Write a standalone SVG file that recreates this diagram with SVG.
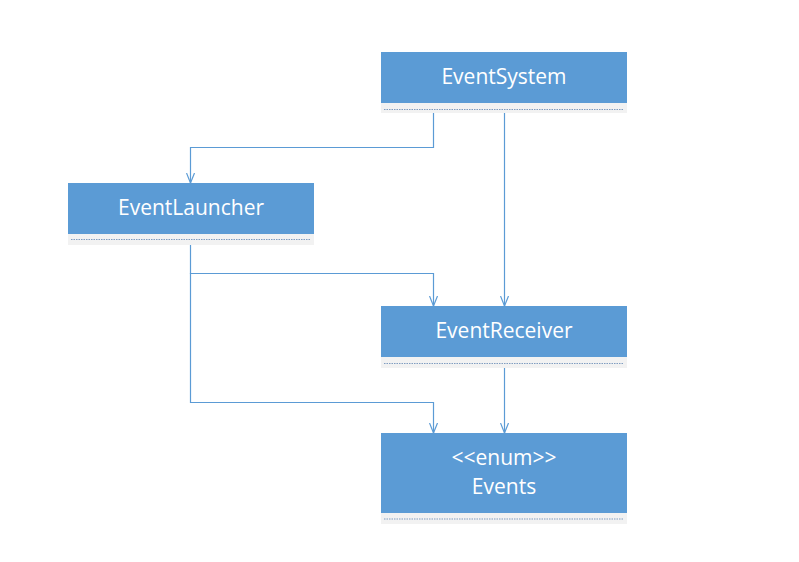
<svg xmlns="http://www.w3.org/2000/svg" width="799" height="562" viewBox="0 0 799 562">
<style>
.box{fill:#5B9BD5}
.band{fill:#F2F2F2}
.dash{stroke:#7F9CC0;stroke-width:1;stroke-dasharray:1.5 1}
.lbl{fill:#FFFFFF;font-family:"Open Sans","Noto Sans",sans-serif;font-size:21px;text-anchor:middle}
.conn{fill:none;stroke:#5B9BD5;stroke-width:1.2}
</style>
<defs>
<marker id="arr" viewBox="0 0 10 10" refX="10" refY="5" markerWidth="10" markerHeight="10" markerUnits="userSpaceOnUse" orient="auto">
<path d="M0,1 L10,5 L0,9" fill="none" stroke="#5B9BD5" stroke-width="1.2"/>
</marker>
</defs>
<rect width="799" height="562" fill="#FFFFFF"/>
<g id="connectors">
<path class="conn" d="M433.5,113 V147.5 H190.5 V183" marker-end="url(#arr)"/>
<path class="conn" d="M504.5,113 V306" marker-end="url(#arr)"/>
<path class="conn" d="M190.5,245 V273.5 H433.5 V306" marker-end="url(#arr)"/>
<path class="conn" d="M190.5,273 V402.5 H433.5 V433" marker-end="url(#arr)"/>
<path class="conn" d="M504.5,368 V433" marker-end="url(#arr)"/>
</g>
<g id="EventSystem">
<rect class="band" x="381" y="102" width="246" height="11"/>
<rect class="box" x="381" y="52" width="246" height="51"/>
<line class="dash" x1="384" y1="109.5" x2="624" y2="109.5"/>
<text class="lbl" x="504" y="84">EventSystem</text>
</g>
<g id="EventLauncher">
<rect class="band" x="68" y="233" width="246" height="12"/>
<rect class="box" x="68" y="183" width="246" height="51"/>
<line class="dash" x1="71" y1="239.5" x2="311" y2="239.5"/>
<text class="lbl" x="191" y="215">EventLauncher</text>
</g>
<g id="EventReceiver">
<rect class="band" x="381" y="357" width="246" height="11"/>
<rect class="box" x="381" y="306" width="246" height="51"/>
<line class="dash" x1="384" y1="363.5" x2="624" y2="363.5"/>
<text class="lbl" x="504" y="338">EventReceiver</text>
</g>
<g id="Events">
<rect class="band" x="381" y="512" width="246" height="12"/>
<rect class="box" x="381" y="433" width="246" height="80"/>
<line class="dash" x1="384" y1="519" x2="624" y2="519"/>
<text class="lbl" x="504" y="465">&lt;&lt;enum&gt;&gt;</text>
<text class="lbl" x="504" y="494">Events</text>
</g>
</svg>
